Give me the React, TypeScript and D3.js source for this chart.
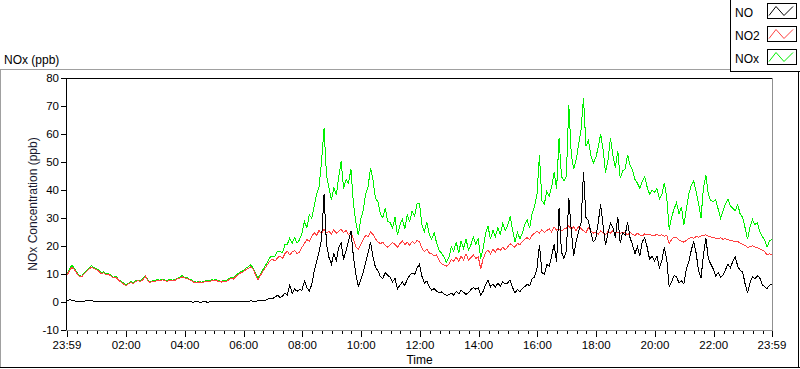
import React from "react";
import * as d3 from "d3";

// 5-minute samples from 23:59 to 23:59 next day (289 points)
const NO2 = [
  9.5, 11.2, 12.4, 11.6, 10.3, 9.2, 9.0, 10.1, 10.8, 11.7, 12.4, 11.9,
  11.6, 11.0, 10.1, 10.5, 9.7, 9.9, 9.2, 8.6, 8.9, 7.8, 7.2, 6.5,
  5.8, 6.4, 7.0, 6.6, 7.2, 7.6, 7.3, 8.0, 9.2, 7.6, 7.0, 7.3,
  7.4, 7.7, 7.5, 7.9, 7.6, 7.3, 7.8, 7.5, 7.7, 8.2, 8.4, 9.0,
  8.6, 8.4, 7.9, 7.5, 7.0, 6.9, 7.2, 6.8, 7.1, 7.4, 7.2, 7.6,
  7.5, 7.7, 7.3, 7.1, 7.4, 7.2, 7.9, 8.4, 8.2, 9.1, 9.8, 10.4,
  10.8, 11.5, 12.0, 12.5, 11.8, 9.8, 8.0, 9.5, 10.9, 12.2, 13.5, 14.8,
  15.2, 14.6, 15.8, 16.4, 15.5, 17.2, 18.1, 16.8, 17.9, 18.4, 17.2, 17.8,
  19.5, 21.0, 22.3, 21.6, 23.4, 24.8, 23.9, 25.6, 24.2, 26.1, 24.7, 25.3,
  24.3, 25.8, 24.6, 25.2, 26.0, 24.8, 25.5, 24.1, 25.0, 22.4, 19.8, 18.9,
  20.5, 22.2, 23.8, 23.4, 25.0, 24.1, 22.6, 21.5, 20.8, 21.4, 20.2, 19.6,
  20.4, 21.2, 20.6, 19.5, 20.8, 21.9, 20.5, 21.4, 20.2, 21.6, 20.9, 22.0,
  21.5, 19.2, 18.0, 18.8, 17.5, 17.2, 16.4, 16.8, 14.8, 13.6, 13.2, 12.8,
  13.4, 15.2, 14.6, 16.0, 14.5, 16.4, 15.1, 17.2, 15.0, 15.8, 16.9, 15.5,
  16.2, 11.8, 15.4, 17.6, 18.5, 17.2, 18.8, 17.9, 19.2, 18.4, 19.6, 18.6,
  19.6, 20.8, 20.2, 19.5, 21.0, 20.4, 21.6, 22.4, 23.0, 22.2, 23.8, 24.6,
  25.2, 24.6, 25.8, 24.9, 25.5, 26.2, 25.0, 26.8, 25.6, 26.1, 25.4, 26.0,
  26.4, 27.2, 26.0, 26.8, 25.5, 27.0, 26.2, 25.4, 24.8, 26.5, 25.2, 24.6,
  25.0, 24.2, 25.4, 24.8, 24.0, 25.2, 24.6, 25.6, 24.4, 25.0, 24.5, 24.9,
  24.6, 24.0, 24.8, 24.2, 23.8, 24.5, 24.0, 23.6, 24.3, 23.9, 24.2, 23.7,
  23.8, 24.1, 23.6, 24.0, 23.5, 23.8, 20.8, 22.4, 23.2, 23.0, 22.2, 21.6,
  21.4, 22.0, 22.6, 23.0, 22.8, 23.4, 23.1, 23.6, 23.8, 24.0, 23.5, 23.2,
  23.0, 22.8, 22.5, 22.9, 22.4, 22.6, 22.2, 22.0, 21.8, 21.5, 21.6, 21.0,
  20.6, 20.2, 19.5, 19.8, 20.1, 19.6, 19.4, 19.0, 18.6, 18.0, 16.8, 17.2, 16.9,
];

const NO = [
  0.3, 0.9, 0.6, 0.4, 0.3, 0.2, 0.2, 0.3, 0.4, 0.6, 0.4, 0.3,
  0.2, 0.3, 0.2, 0.1, 0.2, 0.3, 0.1, 0.2, 0.2, 0.1, 0.2, 0.1,
  0.1, 0.0, 0.1, 0.2, 0.1, 0.0, 0.1, 0.1, 0.0, 0.1, 0.0, 0.1,
  0.1, 0.0, 0.1, 0.0, 0.1, 0.1, 0.0, 0.1, 0.0, 0.1, 0.1, 0.0,
  0.1, 0.0, 0.1, 0.0, 0.0, 0.1, 0.0, 0.0, 0.1, 0.0, 0.0, 0.1,
  0.1, 0.0, 0.1, 0.1, 0.0, 0.1, 0.0, 0.1, 0.0, 0.1, 0.1, 0.2,
  0.2, 0.3, 0.2, 0.4, 0.3, 0.3, 0.4, 0.5, 0.7, 0.6, 1.0, 1.3,
  1.2, 1.8, 2.4, 1.6, 2.1, 3.2, 2.5, 6.0, 3.1, 4.6, 3.8, 4.5,
  4.2, 7.5, 5.1, 4.0, 6.2, 11.0, 14.5, 18.0, 22.5, 38.5, 20.8, 16.0,
  13.5, 17.2, 14.8, 19.5, 21.0, 15.2, 18.4, 21.8, 25.4, 16.2, 9.8, 5.6,
  7.8, 10.5, 14.2, 17.5, 21.5, 16.0, 12.4, 11.2, 9.1, 8.4, 10.5, 9.6,
  8.8, 7.2, 8.5, 4.6, 6.0, 7.2, 5.8, 8.2, 9.5, 10.4, 9.8, 12.2,
  13.5, 9.2, 6.8, 7.5, 5.4, 4.2, 4.8, 3.9, 3.2, 3.6, 2.8, 2.4,
  2.6, 3.2, 2.4, 3.8, 2.9, 4.1, 3.5, 2.7, 3.4, 4.4, 5.2, 4.6,
  5.0, 2.4, 3.8, 6.2, 7.8, 5.4, 6.5, 5.2, 6.8, 5.6, 7.2, 6.4,
  6.8, 7.9, 5.2, 3.2, 4.5, 3.6, 4.8, 5.5, 6.4, 5.8, 8.2, 9.0,
  12.0, 20.5, 10.6, 9.8, 13.4, 12.8, 16.5, 20.6, 14.2, 33.5, 17.8, 15.6,
  18.4, 37.2, 25.6, 16.4, 21.8, 25.2, 28.4, 46.5, 30.2, 29.0, 24.8, 21.5,
  22.5, 28.4, 34.8, 27.2, 20.4, 24.6, 28.2, 26.5, 23.0, 30.5, 21.0, 24.8,
  23.8, 28.6, 23.0, 20.5, 17.2, 19.8, 16.5, 21.5, 23.0, 19.6, 15.2, 16.4,
  14.6, 16.5, 12.2, 14.8, 19.5, 15.2, 5.4, 7.2, 9.4, 9.0, 6.8, 7.6,
  6.5, 11.8, 14.2, 18.4, 21.6, 17.5, 11.2, 8.6, 16.8, 22.8, 15.4, 13.5,
  11.8, 9.2, 10.5, 8.8, 9.6, 11.5, 13.6, 12.2, 14.5, 16.0, 12.8, 11.2,
  10.8, 6.5, 3.2, 6.8, 9.0, 8.2, 9.4, 8.6, 6.2, 5.4, 4.8, 6.0, 6.5,
];

const NOX = [
  10.0, 11.8, 13.2, 12.0, 10.6, 9.5, 9.2, 10.4, 11.3, 12.2, 12.9, 12.3,
  12.0, 11.4, 10.4, 10.9, 10.0, 10.2, 9.5, 8.8, 9.2, 8.1, 7.4, 6.8,
  6.0, 6.6, 7.3, 6.9, 7.5, 7.9, 7.6, 8.3, 9.5, 7.9, 7.2, 7.6,
  7.7, 8.0, 7.8, 8.2, 7.9, 7.6, 8.1, 7.8, 8.0, 8.5, 8.8, 9.4,
  8.9, 8.7, 8.2, 7.8, 7.3, 7.1, 7.4, 7.1, 7.4, 7.6, 7.5, 7.9,
  7.8, 8.0, 7.6, 7.4, 7.7, 7.5, 8.2, 8.8, 8.6, 9.5, 10.2, 10.8,
  11.2, 12.0, 12.6, 13.2, 12.2, 10.2, 8.4, 10.0, 11.5, 12.9, 14.5, 16.0,
  16.4, 16.4, 18.2, 18.0, 17.6, 20.4, 20.6, 22.8, 21.0, 23.0, 21.0, 22.3,
  24.5, 28.8, 26.5, 31.2, 29.8, 34.5, 38.6, 41.2, 50.5, 62.0, 45.3, 41.0,
  36.5, 40.8, 38.2, 44.5, 50.2, 40.5, 43.8, 42.4, 47.5, 35.2, 28.5, 23.8,
  29.5, 32.8, 38.5, 41.2, 48.0, 43.5, 37.2, 35.8, 31.4, 30.2, 33.5, 28.8,
  28.4, 26.5, 30.2, 23.8, 27.5, 29.6, 26.2, 31.0, 28.8, 32.5, 30.8, 35.2,
  35.0, 27.5, 25.2, 28.6, 24.0, 22.5, 24.8, 21.0, 18.4, 17.5, 16.0, 14.2,
  15.8, 19.6, 18.2, 21.5, 17.4, 21.8, 19.2, 22.5, 18.6, 20.4, 23.2, 20.5,
  22.8, 15.5, 19.2, 24.5, 27.0, 22.4, 25.6, 23.3, 26.5, 24.2, 28.0, 25.4,
  27.2, 30.5, 26.0, 21.4, 24.8, 22.6, 24.5, 27.8, 29.2, 26.4, 31.5, 34.2,
  38.5, 52.4, 36.2, 35.0, 39.5, 37.8, 41.2, 46.5, 40.2, 58.5, 44.8, 43.2,
  45.0, 70.5, 52.8, 47.5, 50.8, 56.2, 61.5, 73.0, 55.6, 57.8, 52.4, 49.6,
  51.5, 55.2, 60.0, 54.5, 46.2, 50.8, 58.6, 52.4, 48.0, 54.0, 44.2, 46.8,
  47.5, 52.6, 49.0, 47.2, 43.8, 42.5, 40.6, 43.2, 44.8, 41.0, 38.5, 39.8,
  39.2, 40.5, 36.8, 38.4, 42.6, 37.5, 25.8, 30.4, 33.2, 35.6, 31.5, 34.0,
  27.5, 33.2, 38.5, 41.6, 43.2, 39.5, 35.2, 30.0, 40.8, 45.2, 38.4, 36.2,
  35.8, 36.5, 33.2, 29.8, 32.4, 35.0, 36.8, 34.2, 33.5, 32.6, 34.8, 31.4,
  30.2, 26.5, 22.4, 26.8, 29.5, 27.6, 28.4, 25.2, 23.5, 22.0, 19.6, 21.8, 22.5,
];

const X_LABELS = ["23:59", "02:00", "04:00", "06:00", "08:00", "10:00", "12:00",
  "14:00", "16:00", "18:00", "20:00", "22:00", "23:59"];

const SERIES = [
  { name: "NO", color: "#000000", values: NO },
  { name: "NO2", color: "#ff4040", values: NO2 },
  { name: "NOx", color: "#00f000", values: NOX },
];

const FONT = "'Liberation Sans', Arial, sans-serif";

export default function App() {
  const start = new Date(2020, 0, 1, 23, 59);
  const end = new Date(2020, 0, 2, 23, 59);
  const left = 67, right = 772, top = 78, bottom = 330;

  const x = d3.scaleTime().domain([start, end]).range([left, right]);
  const y = d3.scaleLinear().domain([-10, 80]).range([bottom, top]);

  const times = NO.map((_, i) => d3.timeMinute.offset(start, i * 5));

  const line = d3
    .line<number>()
    .x((_, i) => x(times[i]))
    .y((d) => y(d));

  const majors = X_LABELS.map((lab, i) => {
    if (i === 0) return { lab, t: start };
    if (i === X_LABELS.length - 1) return { lab, t: end };
    const [h, m] = lab.split(":").map(Number);
    return { lab, t: new Date(2020, 0, 2, h, m) };
  });
  const minors = d3.timeMinute
    .every(20)!
    .range(start, end)
    .filter((t) => !(t.getMinutes() === 0 && t.getHours() % 2 === 0));

  const yTicks = y.ticks(9);
  // draw order: NOx under NO2 under NO
  const drawOrder = [SERIES[2], SERIES[1], SERIES[0]];

  return (
    <svg
      width={800}
      height={369}
      style={{ position: "absolute", left: 0, top: 0, background: "#fff" }}
      fontFamily={FONT}
    >
      {/* outer panel frame */}
      <line x1={0} x2={730} y1={69.5} y2={69.5} stroke="#a0a0a0" />
      <line x1={0.5} x2={0.5} y1={69} y2={368} stroke="#a0a0a0" />
      <line x1={0} x2={800} y1={367.5} y2={367.5} stroke="#000" />
      <line x1={798.5} x2={798.5} y1={72} y2={368} stroke="#000" />

      <text x={4} y={64} fontSize={12} fill="#000">NOx (ppb)</text>

      {/* legend */}
      <g>
        <line x1={730.5} x2={730.5} y1={0} y2={72} stroke="#000" />
        <line x1={730} x2={800} y1={71.5} y2={71.5} stroke="#000" />
        {SERIES.map((s, i) => {
          const by = 3.5 + i * 23;
          return (
            <g key={s.name}>
              <text x={735} y={by + 13} fontSize={12} fill="#000">{s.name}</text>
              <rect x={767.5} y={by} width={29} height={15} fill="#fff" stroke="#000" />
              <polyline
                points={`769,${by + 12} 776,${by + 3} 784,${by + 12} 793,${by + 3}`}
                fill="none"
                stroke={s.color}
              />
            </g>
          );
        })}
      </g>

      {/* plot frame */}
      <line x1={left} x2={right} y1={top + 0.5} y2={top + 0.5} stroke="#000" />
      <line x1={left - 0.5} x2={left - 0.5} y1={top} y2={bottom} stroke="#000" />
      <line x1={right + 0.5} x2={right + 0.5} y1={top} y2={bottom + 1} stroke="#909090" />
      <line x1={left - 1} x2={right + 1} y1={bottom + 0.5} y2={bottom + 0.5} stroke="#909090" />

      {/* series */}
      {drawOrder.map((s) => (
        <path
          key={s.name}
          d={line(s.values) || ""}
          fill="none"
          stroke={s.color}
          strokeWidth={1}
          shapeRendering="crispEdges"
        />
      ))}

      {/* y axis */}
      {yTicks.map((t) => (
        <g key={t}>
          <line x1={left - 6} x2={left - 1} y1={Math.round(y(t)) + 0.5} y2={Math.round(y(t)) + 0.5} stroke="#000" />
          <text x={left - 8} y={y(t) + 4} fontSize={11.5} textAnchor="end" fill="#000">{t}</text>
        </g>
      ))}
      <text
        transform={`translate(37,${(top + bottom) / 2}) rotate(-90)`}
        fontSize={12}
        textAnchor="middle"
        fill="#1a1a30"
      >
        NOx Concentration (ppb)
      </text>

      {/* x axis */}
      {minors.map((t) => (
        <line key={+t} x1={Math.round(x(t)) + 0.5} x2={Math.round(x(t)) + 0.5} y1={bottom + 1} y2={bottom + 4} stroke="#000" />
      ))}
      {majors.map((m) => (
        <g key={m.lab + +m.t}>
          <line x1={Math.round(x(m.t)) + 0.5} x2={Math.round(x(m.t)) + 0.5} y1={bottom + 1} y2={bottom + 7} stroke="#000" />
          <text x={x(m.t)} y={bottom + 19} fontSize={11.5} textAnchor="middle" fill="#000">{m.lab}</text>
        </g>
      ))}
      <text x={(left + right) / 2} y={364} fontSize={12} textAnchor="middle" fill="#000">Time</text>
    </svg>
  );
}
